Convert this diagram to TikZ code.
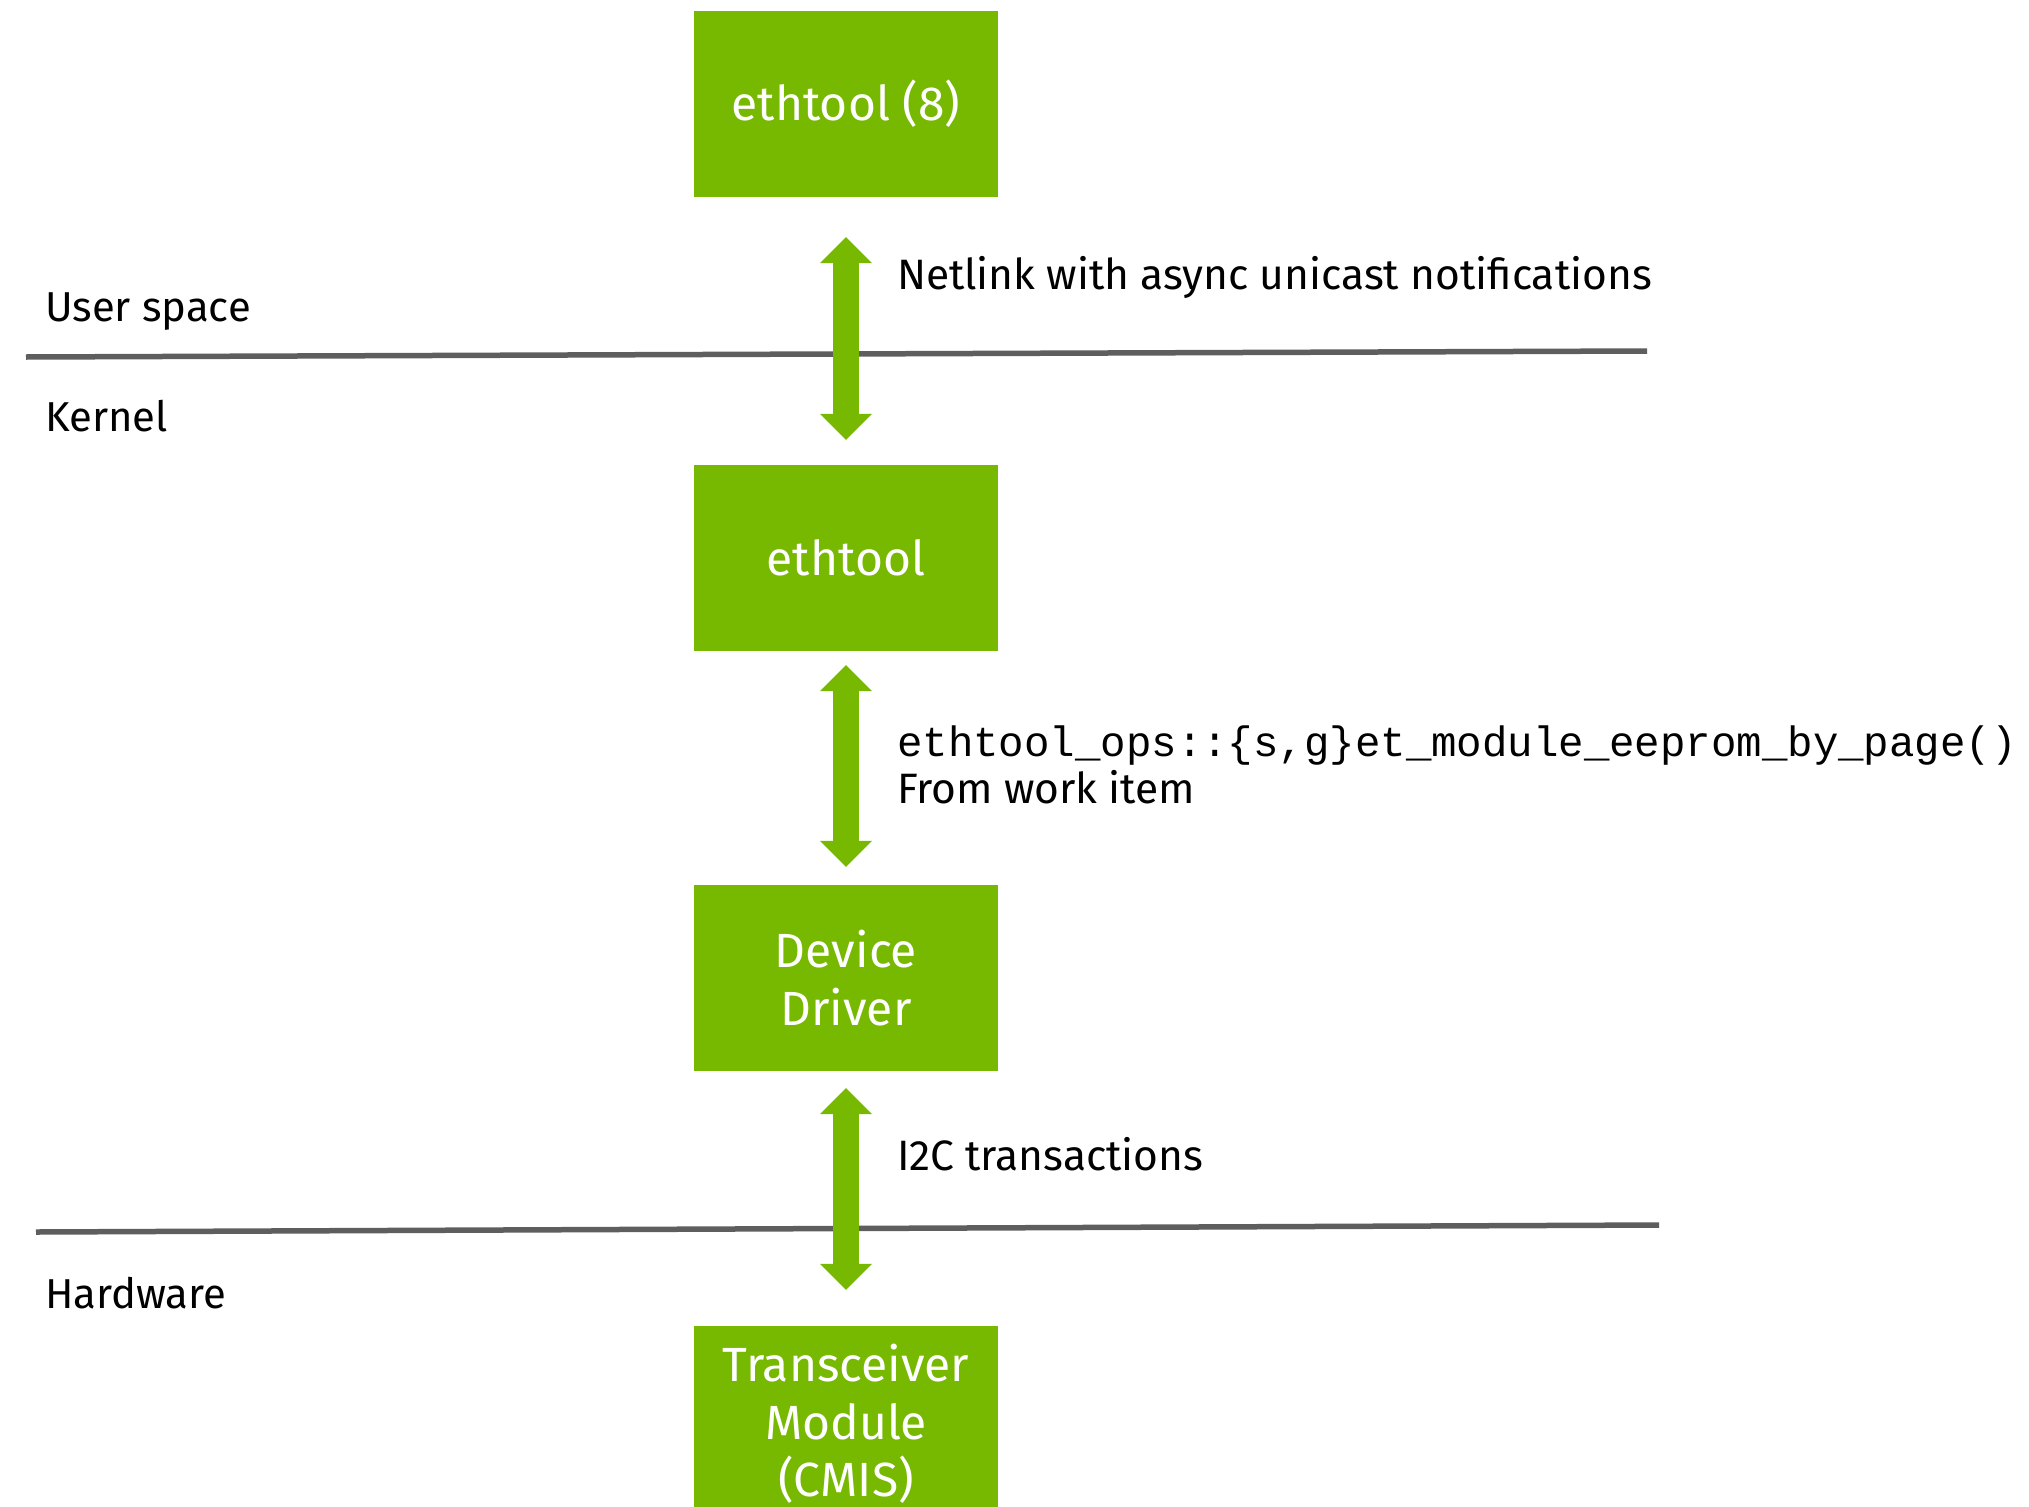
\documentclass[tikz,border=0pt]{standalone}
\usepackage{fontspec}
\setmainfont{Fira Sans}
\setmonofont{Liberation Mono}
\usetikzlibrary{arrows.meta}
\definecolor{nvgreen}{HTML}{76B900}
\definecolor{sepgray}{HTML}{5E5E5E}

\begin{document}
\begin{tikzpicture}[x=1pt,y=-1pt,
  block/.style={fill=nvgreen, text=white, minimum width=304pt, minimum height=186pt,
    inner sep=0pt, align=center, font=\fontsize{48}{57.5}\selectfont},
  layer/.style={anchor=base west, inner sep=0pt, font=\fontsize{41.8}{48}\selectfont},
  note/.style={anchor=base west, inner sep=0pt, font=\fontsize{42.5}{48}\selectfont},
  code/.style={anchor=base west, inner sep=0pt, font=\ttfamily\fontsize{42.4}{48}\selectfont},
  bigtip/.tip={Triangle[width=52pt,length=26pt,line width=0pt]},
  duplex/.style={draw=nvgreen, line width=26pt, bigtip-bigtip},
  separator/.style={draw=sepgray, line width=5.5pt}]

\clip (0,0) rectangle (2029,1507);

% layer boundaries
\draw[separator] (26,357) -- (1647,351);
\draw[separator] (36,1232) -- (1659,1225);

% layer names
\node[layer] (user) at (45,321) {User space};
\node[layer] (kernel) at (45,431) {Kernel};
\node[layer] (hw) at (45,1308) {Hardware};

% stack of components
\node[block] (tool) at (846,104) {ethtool (8)};
\node[block] (kmod) at (846,558) {ethtool};
\node[block] (drv) at (846,978) {Device\\Driver};
\node[block, minimum height=196pt] (xcvr) at (846,1424) {Transceiver\\Module\\(CMIS)};

% interfaces between components
\draw[duplex, shorten <=40pt, shorten >=25pt] (tool.south) -- (kmod.north);
\draw[duplex, shorten <=14pt, shorten >=18pt] (kmod.south) -- (drv.north);
\draw[duplex, shorten <=17pt, shorten >=36pt] (drv.south) -- (xcvr.north);

% interface descriptions
\node[note] (nl) at (897,289) {Netlink with async unicast notifications};
\node[code] (ops) at (897,756) {ethtool\_ops::\{s,g\}et\_module\_eeprom\_by\_page()};
\node[note] (work) at (897,803) {From work item};
\node[note] (i2c) at (897,1170) {I2C transactions};
\end{tikzpicture}
\end{document}
